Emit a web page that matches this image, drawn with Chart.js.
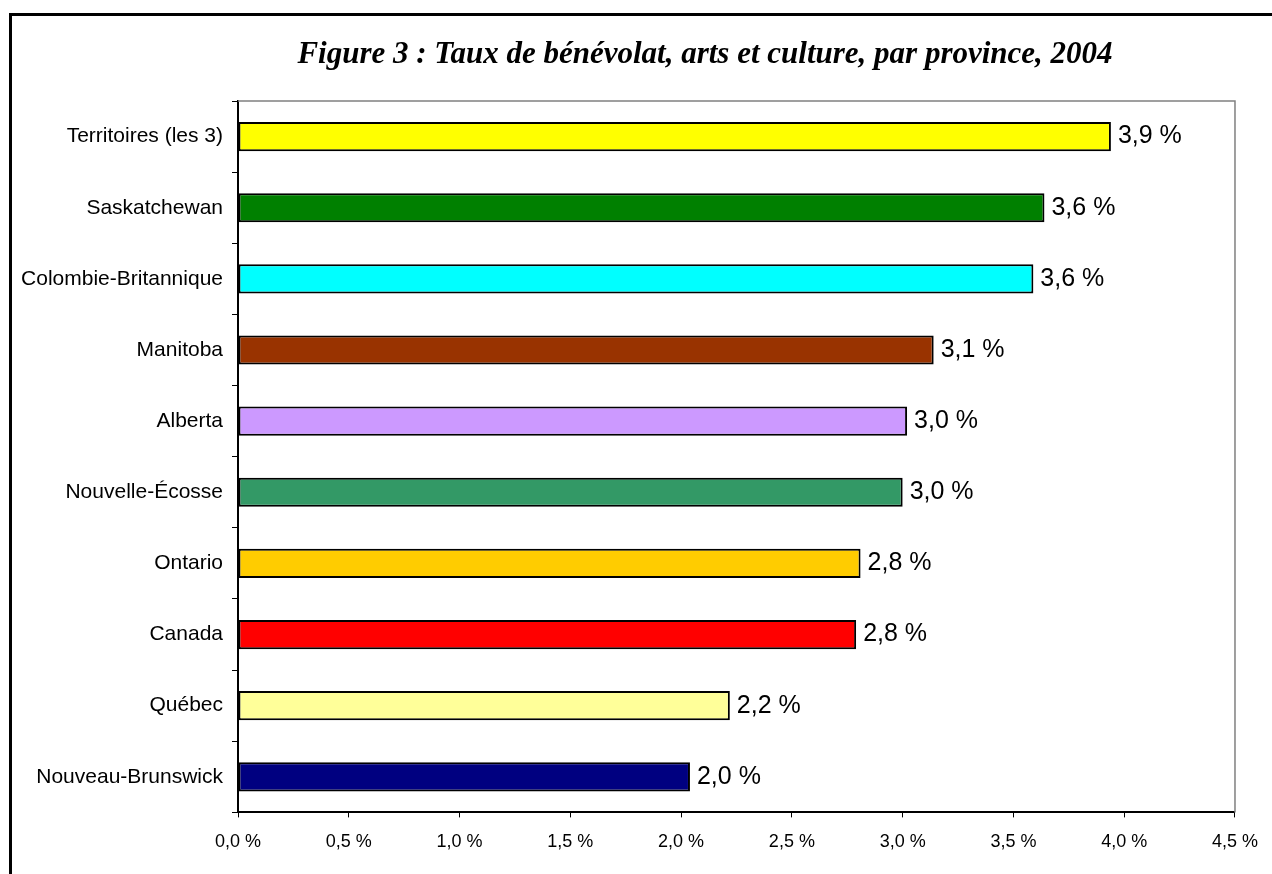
<!DOCTYPE html>
<html>
<head>
<meta charset="utf-8">
<script src="https://cdn.jsdelivr.net/npm/chart.js@4/dist/chart.umd.min.js"></script>
<style>
  html, body { margin: 0; padding: 0; background: #fff; overflow: hidden; width: 1272px; height: 874px; }
  #frame { position: absolute; left: 9px; top: 13px; width: 1400px; height: 1000px; border: 3px solid #000; box-sizing: content-box; }
  #wrap { position: absolute; left: 0; top: 0; width: 1260px; height: 858px; }
</style>
</head>
<body>
<div id="frame"><div id="wrap"><canvas id="c"></canvas></div></div>
<script>
const titleText = "Figure 3 : Taux de bénévolat, arts et culture, par province, 2004";
const categories = ["Territoires (les 3)", "Saskatchewan", "Colombie-Britannique", "Manitoba", "Alberta", "Nouvelle-Écosse", "Ontario", "Canada", "Québec", "Nouveau-Brunswick"];
const rates = [3.94, 3.64, 3.59, 3.14, 3.02, 3.00, 2.81, 2.79, 2.22, 2.04];
const barColors = ["#FFFF00", "#008000", "#00FFFF", "#993300", "#CC99FF", "#339966", "#FFCC00", "#FF0000", "#FFFF99", "#000080"];
const axisMin = 0, axisMax = 4.5, axisStep = 0.5;

const fmt = (v, d) => v.toFixed(d).replace('.', ',') + ' %';
const SANS = '"Liberation Sans", Arial, sans-serif';

const valueLabels = {
  id: 'valueLabels',
  afterDatasetsDraw(chart) {
    const ctx = chart.ctx;
    const meta = chart.getDatasetMeta(0);
    ctx.save();
    ctx.font = '25px ' + SANS;
    ctx.fillStyle = '#000';
    ctx.textAlign = 'left';
    ctx.textBaseline = 'middle';
    meta.data.forEach((bar, i) => {
      ctx.fillText(fmt(chart.data.datasets[0].data[i], 1), bar.x + 7, bar.y);
    });
    ctx.restore();
  }
};

const frameAndTitle = {
  id: 'frameAndTitle',
  afterDraw(chart) {
    const ctx = chart.ctx, a = chart.chartArea;
    ctx.save();
    ctx.strokeStyle = '#808080';
    ctx.lineWidth = 1.5;
    ctx.beginPath();
    ctx.moveTo(a.left, a.top);
    ctx.lineTo(a.right, a.top);
    ctx.lineTo(a.right, a.bottom);
    ctx.stroke();
    ctx.font = 'italic bold 31px "Liberation Serif", "Times New Roman", serif';
    ctx.fillStyle = '#000';
    ctx.textAlign = 'center';
    ctx.textBaseline = 'alphabetic';
    ctx.fillText(titleText, chart.width * 0.55, 47);
    ctx.restore();
  }
};

new Chart(document.getElementById('c'), {
  type: 'bar',
  data: {
    labels: categories,
    datasets: [{
      data: rates,
      backgroundColor: barColors,
      borderColor: '#000',
      borderWidth: 2,
      borderSkipped: false,
      barPercentage: 0.41,
      categoryPercentage: 1.0
    }]
  },
  options: {
    indexAxis: 'y',
    responsive: true,
    maintainAspectRatio: false,
    animation: false,
    layout: { padding: { top: 85, right: 37, left: 0, bottom: 7 } },
    plugins: {
      legend: { display: false },
      tooltip: { enabled: false },
      title: { display: false }
    },
    scales: {
      x: {
        min: axisMin,
        max: axisMax,
        ticks: {
          stepSize: axisStep,
          color: '#000',
          font: { family: SANS, size: 18 },
          padding: 14,
          callback: (v) => fmt(v, 1)
        },
        grid: { drawOnChartArea: false, drawTicks: true, tickLength: 5, color: '#000', lineWidth: 1 },
        border: { color: '#000', width: 2 }
      },
      y: {
        afterFit: (scale) => { scale.width = 226; },
        ticks: {
          color: '#000',
          font: { family: SANS, size: 21 },
          padding: 9
        },
        grid: { offset: true, drawOnChartArea: false, drawTicks: true, tickLength: 6, color: '#000', lineWidth: 1 },
        border: { color: '#000', width: 2 }
      }
    }
  },
  plugins: [valueLabels, frameAndTitle]
});
</script>
</body>
</html>
